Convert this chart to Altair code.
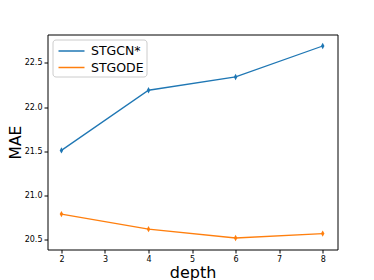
import altair as alt
import pandas as pd

depth = [2, 4, 6, 8]
stgcn = [21.51, 22.19, 22.34, 22.69]
stgode = [20.79, 20.62, 20.52, 20.57]
series = ["STGCN*", "STGODE"]
colors = ["#1f77b4", "#ff7f0e"]

rows = []
for d, v in zip(depth, stgcn):
    rows.append({"depth": d, "MAE": v, "model": series[0]})
for d, v in zip(depth, stgode):
    rows.append({"depth": d, "MAE": v, "model": series[1]})
df = pd.DataFrame(rows)

xs = alt.Scale(domain=[1.68, 8.34], nice=False, zero=False)
ys = alt.Scale(domain=[20.39, 22.82], nice=False, zero=False)
cs = alt.Scale(domain=series, range=colors)

xaxis = alt.Axis(values=[2, 3, 4, 5, 6, 7, 8], title="depth", titleFontSize=16,
                 titleFontWeight="normal", labelFontSize=8, tickSize=3.5,
                 grid=False, domain=False, tickColor="black", labelColor="black",
                 titleColor="black", labelPadding=2, titlePadding=1)
yaxis = alt.Axis(values=[20.5, 21.0, 21.5, 22.0, 22.5], format=".1f", title="MAE",
                 titleFontSize=15.5, titleFontWeight="normal", labelFontSize=8,
                 tickSize=3.5, grid=False, domain=False, tickColor="black",
                 labelColor="black", titleColor="black", labelPadding=2, titlePadding=1)

base = alt.Chart(df)
lines = base.mark_line(strokeWidth=1.3).encode(
    x=alt.X("depth:Q", scale=xs, axis=xaxis),
    y=alt.Y("MAE:Q", scale=ys, axis=yaxis),
    color=alt.Color("model:N", scale=cs, sort=series,
                    legend=alt.Legend(title=None, orient="none", legendX=5, legendY=5,
                                      symbolType="M-1.625,0L1.625,0", symbolSize=256,
                                      symbolOffset=7.5,
                                      symbolStrokeWidth=1.5, labelFontSize=12.5,
                                      labelColor="black", rowPadding=0.5,
                                      padding=2.5, strokeColor="#cccccc",
                                      fillColor="white", cornerRadius=3,
                                      labelOffset=10.5)),
)
points = base.mark_point(shape="M0,-1L0.55,0L0,1L-0.55,0Z", filled=True, size=40,
                         opacity=1).encode(
    x=alt.X("depth:Q", scale=xs),
    y=alt.Y("MAE:Q", scale=ys),
    color=alt.Color("model:N", scale=cs, legend=None),
)

chart = (lines + points).properties(
    width=290, height=215,
    autosize=alt.AutoSizeParams(type="none"),
    padding={"left": 39.5, "top": 26.5, "right": 28.5, "bottom": 30.5},
).configure(
    font="DejaVu Sans"
).configure_view(stroke="#000000", strokeWidth=1)

chart.save("out.html", embed_options={"renderer": "svg", "actions": False})
